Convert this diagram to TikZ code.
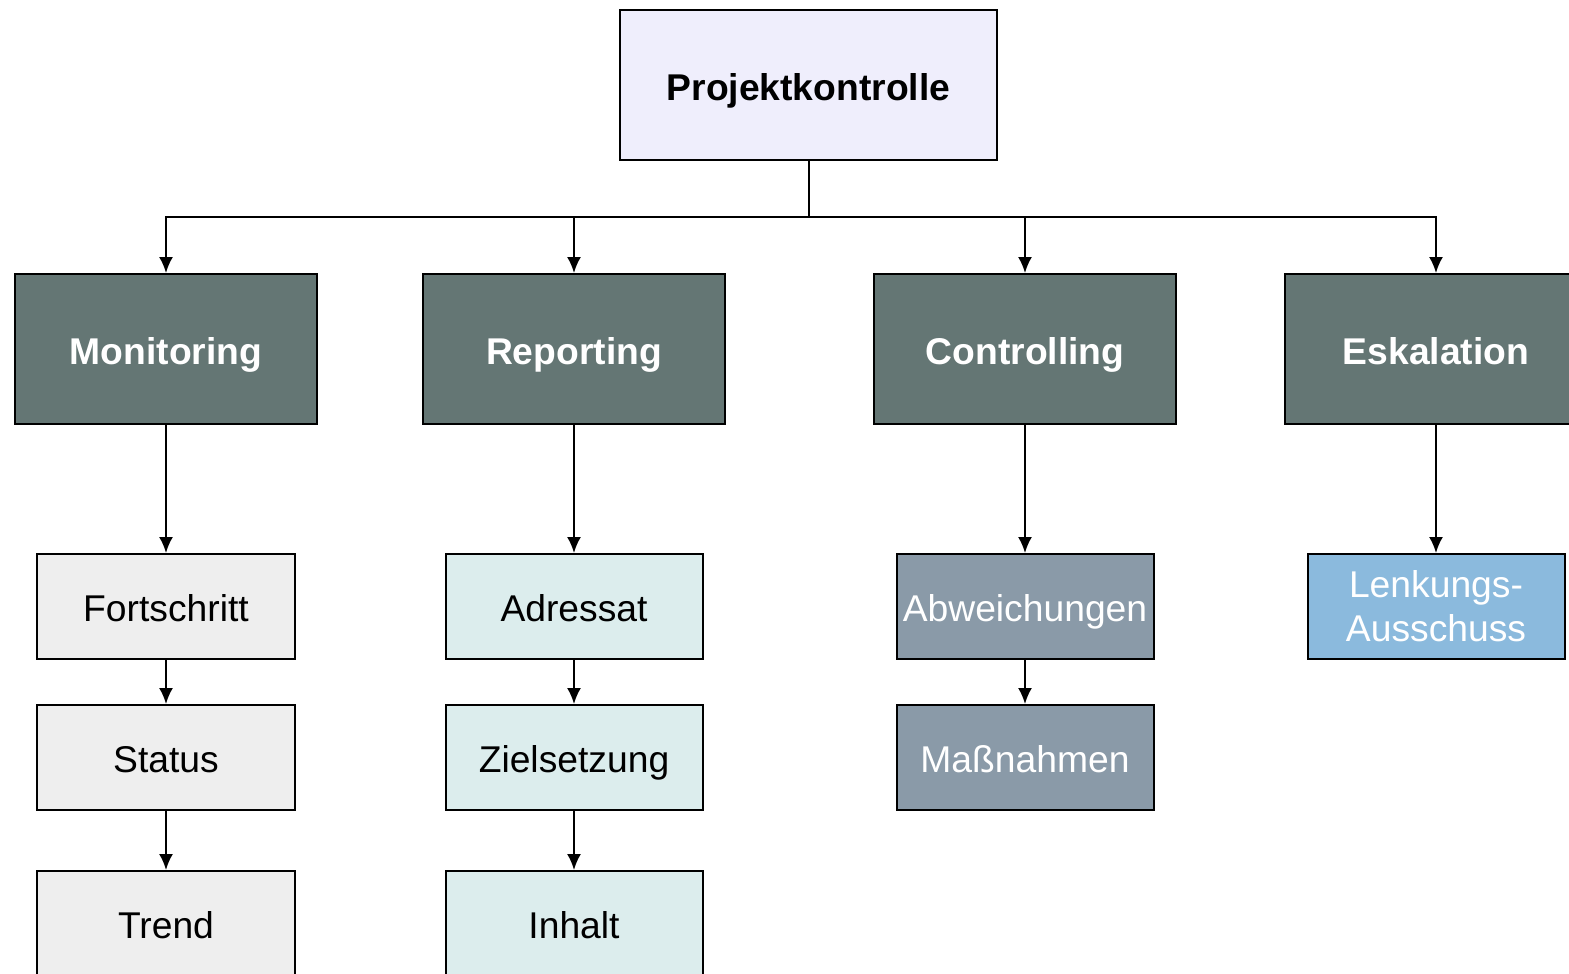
\documentclass[tikz,border=0pt]{standalone}
\usepackage{fontspec}
\setmainfont{Liberation Sans}
\usetikzlibrary{arrows.meta}

\definecolor{topfill}{HTML}{EFEEFC}
\definecolor{mainfill}{HTML}{647674}
\definecolor{monfill}{HTML}{EEEEEE}
\definecolor{repfill}{HTML}{DCEDED}
\definecolor{confill}{HTML}{8A9AA8}
\definecolor{eskfill}{HTML}{8BBADD}

\tikzset{
  box/.style={draw, line width=0.8pt, align=center, inner sep=0pt,
    text height=14pt, text depth=2pt,
    font=\fontsize{14.9}{17.6}\selectfont},
  topbox/.style={box, fill=topfill, minimum width=150.8pt, minimum height=60pt, font=\fontsize{14.9}{17.6}\selectfont\bfseries},
  mainbox/.style={box, fill=mainfill, text=white, minimum width=120.8pt, minimum height=60pt, font=\fontsize{14.9}{17.6}\selectfont\bfseries},
  subbox/.style={box, minimum width=102.8pt, minimum height=42pt},
  link/.style={line width=0.8pt, -{Latex[length=6.4pt,width=5.6pt]}}
}

\begin{document}
\begin{tikzpicture}[x=0.4pt, y=-0.4pt]
\useasboundingbox (0,0) rectangle (1569,974);

\path
(808.5,85)  node[topbox]  (P) {Projektkontrolle}

(166,349)   node[mainbox] (M) {Monitoring}
(574,349)   node[mainbox] (R) {Reporting}
(1025,349)  node[mainbox] (C) {Controlling}
(1436,349)  node[mainbox] (E) {Eskalation}

(166,606.5) node[subbox, fill=monfill] (M1) {Fortschritt}
(166,757.5) node[subbox, fill=monfill] (M2) {Status}
(166,923.5) node[subbox, fill=monfill] (M3) {Trend}

(574,606.5) node[subbox, fill=repfill] (R1) {Adressat}
(574,757.5) node[subbox, fill=repfill] (R2) {Zielsetzung}
(574,923.5) node[subbox, fill=repfill] (R3) {Inhalt}

(1025,606.5) node[subbox, fill=confill, text=white] (C1) {Abweichungen}
(1025,757.5) node[subbox, fill=confill, text=white] (C2) {Maßnahmen}

(1436,606.5) node[subbox, fill=eskfill, text=white, text height=, text depth=] (E1) {\raisebox{-1.5pt}{Lenkungs-}\\\raisebox{-1.5pt}{Ausschuss}};

\coordinate (bus) at (808.5,217);
\draw[line width=0.8pt] (P) -- (bus);
\draw[link] (bus) -| (M);
\draw[link] (bus) -| (R);
\draw[link] (bus) -| (C);
\draw[link] (bus) -| (E);

\draw[link] (M) -- (M1);
\draw[link] (M1) -- (M2);
\draw[link] (M2) -- (M3);

\draw[link] (R) -- (R1);
\draw[link] (R1) -- (R2);
\draw[link] (R2) -- (R3);

\draw[link] (C) -- (C1);
\draw[link] (C1) -- (C2);

\draw[link] (E) -- (E1);
\end{tikzpicture}
\end{document}
